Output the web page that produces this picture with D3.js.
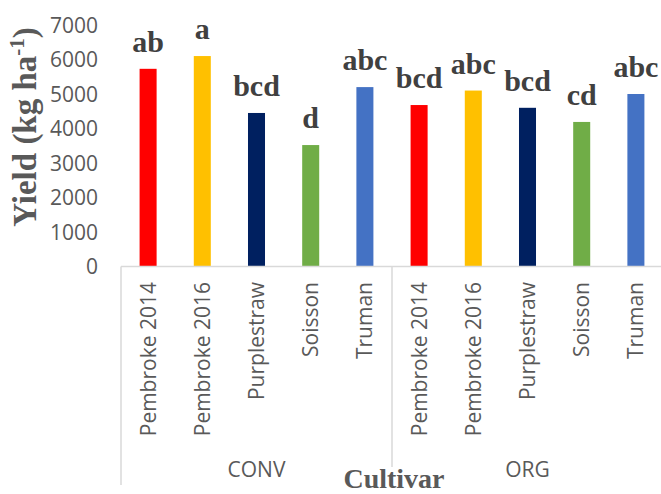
<!DOCTYPE html>
<html>
<head>
<meta charset="utf-8">
<script src="https://cdn.jsdelivr.net/npm/d3@7"></script>
<style>
  html, body { margin: 0; padding: 0; background: #fff; }
  svg { display: block; }
</style>
</head>
<body>
<svg id="chart" width="661" height="494"></svg>
<script>
const groups = ["CONV", "ORG"];
const cultivars = ["Pembroke 2014", "Pembroke 2016", "Purplestraw", "Soisson", "Truman"];
const convYield = [5730, 6100, 4450, 3520, 5200];
const orgYield = [4680, 5100, 4600, 4190, 5000];
const convLetters = ["ab", "a", "bcd", "d", "abc"];
const orgLetters = ["bcd", "abc", "bcd", "cd", "abc"];
const colors = ["#FF0000", "#FFC000", "#002060", "#70AD47", "#4472C4"];
const yTicks = [0, 1000, 2000, 3000, 4000, 5000, 6000, 7000];

const rows = [];
groups.forEach((g, gi) => {
  const vals = gi === 0 ? convYield : orgYield;
  const lets = gi === 0 ? convLetters : orgLetters;
  cultivars.forEach((c, ci) => {
    rows.push({ key: g + "|" + c, group: g, cultivar: c, value: vals[ci], letter: lets[ci], color: colors[ci] });
  });
});

const svg = d3.select("#chart");
const left = 121, right = 663, y0 = 266.5, yTop = 25;

const x = d3.scaleBand().domain(rows.map(d => d.key)).range([left, right])
  .paddingInner(0.686).paddingOuter(0.343);
const y = d3.scaleLinear().domain([0, 7000]).range([y0, yTop]);

// y tick labels
svg.append("g").selectAll("text").data(yTicks).join("text")
  .attr("x", 98).attr("y", d => y(d)).attr("dy", "0.36em")
  .attr("text-anchor", "end")
  .attr("font-family", "'Open Sans', sans-serif").attr("font-size", 21)
  .attr("fill", "#595959").text(d => d);

// bars
svg.append("g").selectAll("rect").data(rows).join("rect")
  .attr("x", d => x(d.key)).attr("width", x.bandwidth())
  .attr("y", d => y(d.value)).attr("height", d => y(0) - y(d.value))
  .attr("fill", d => d.color);

// significance letters
svg.append("g").selectAll("text").data(rows).join("text")
  .attr("x", d => x(d.key) + x.bandwidth() / 2)
  .attr("y", d => y(d.value) - 17)
  .attr("text-anchor", "middle")
  .attr("font-family", "'Liberation Serif', 'Times New Roman', serif")
  .attr("font-weight", "bold").attr("font-size", 30)
  .attr("fill", "#404040").text(d => d.letter);

// axis lines
const axisColor = "#D9D9D9";
svg.append("line").attr("x1", left).attr("x2", right).attr("y1", y0).attr("y2", y0)
  .attr("stroke", axisColor).attr("stroke-width", 1.5);
const groupStep = (right - left) / groups.length;
const dividers = d3.range(groups.length + 1).map(i => left + i * groupStep);
svg.append("g").selectAll("line").data(dividers).join("line")
  .attr("x1", d => d).attr("x2", d => d).attr("y1", y0).attr("y2", 485)
  .attr("stroke", axisColor).attr("stroke-width", 1.5);

// category labels
svg.append("g").selectAll("text").data(rows).join("text")
  .attr("transform", d => `translate(${x(d.key) + x.bandwidth() / 2},282) rotate(-90)`)
  .attr("dy", "0.36em")
  .attr("text-anchor", "end")
  .attr("font-family", "'Open Sans', sans-serif").attr("font-size", 21)
  .attr("fill", "#595959").text(d => d.cultivar);

// group labels
svg.append("g").selectAll("text").data(groups).join("text")
  .attr("x", (d, i) => left + (i + 0.5) * groupStep).attr("y", 477)
  .attr("text-anchor", "middle")
  .attr("font-family", "'Open Sans', sans-serif").attr("font-size", 21)
  .attr("fill", "#595959").text(d => d);

// axis titles
svg.append("rect").attr("x", 340).attr("y", 467).attr("width", 108).attr("height", 27).attr("fill", "#fff");
svg.append("text").attr("x", 394).attr("y", 488).attr("text-anchor", "middle")
  .attr("font-family", "'Liberation Serif', 'Times New Roman', serif")
  .attr("font-weight", "bold").attr("font-size", 28)
  .attr("fill", "#595959").text("Cultivar");

const yt = svg.append("text").attr("transform", "translate(36,127) rotate(-90)")
  .attr("text-anchor", "middle")
  .attr("font-family", "'Liberation Serif', 'Times New Roman', serif")
  .attr("font-weight", "bold").attr("font-size", 33)
  .attr("fill", "#595959");
yt.append("tspan").text("Yield (kg ha");
yt.append("tspan").attr("font-size", 21).attr("dy", -12).text("-1");
yt.append("tspan").attr("dy", 12).text(")");
</script>
</body>
</html>
